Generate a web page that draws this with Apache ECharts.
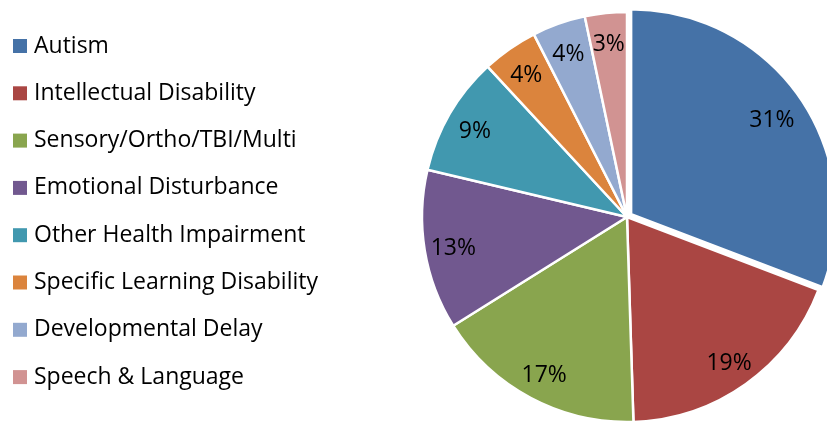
<!DOCTYPE html>
<html>
<head>
<meta charset="utf-8">
<script src="https://cdn.jsdelivr.net/npm/echarts@6/dist/echarts.min.js"></script>
<style>
html,body{margin:0;padding:0;background:#fff;}
#chart{width:827px;height:423px;}
</style>
</head>
<body>
<div id="chart"></div>
<script>
const categories = ["Autism","Intellectual Disability","Sensory/Ortho/TBI/Multi","Emotional Disturbance","Other Health Impairment","Specific Learning Disability","Developmental Delay","Speech & Language"];
const values = [30.8, 18.7, 16.6, 12.6, 9.4, 4.4, 4.2, 3.3];
const colors = ["#4572A7","#AA4643","#89A54E","#71588F","#4198AF","#DB843D","#93A9CF","#D19392"];

const FONT = "Open Sans";
const chart = echarts.init(document.getElementById('chart'), null, {renderer:'canvas'});
const center = [627, 217];
const mainData = categories.map((n,i)=>({name:n, value:values[i], selected: i===0, itemStyle:{color:colors[i]}}));
const labelData = categories.map((n,i)=>({name:n, value:values[i]}));

chart.setOption({
  animation:false,
  legend:{
    orient:'vertical', left:13, top:33, padding:0,
    itemWidth:14, itemHeight:14, itemGap:21.3, icon:'rect',
    selectedMode:false,
    itemStyle:{borderWidth:0},
    data:categories,
    textStyle:{fontFamily:FONT, fontSize:23, lineHeight:26, color:'#000', padding:[0,0,0,2]}
  },
  series:[
    {
      type:'pie', center:center, radius:[0,205], startAngle:90, clockwise:true,
      selectedMode:'multiple', selectedOffset:5, silent:true,
      itemStyle:{borderColor:'#fff', borderWidth:2.5},
      label:{show:false}, labelLine:{show:false},
      emphasis:{disabled:true},
      data:mainData
    },
    {
      type:'pie', center:center, radius:[141,205], startAngle:90, clockwise:true,
      silent:true, legendHoverLink:false, percentPrecision:0,
      itemStyle:{color:'rgba(0,0,0,0)', borderWidth:0},
      label:{show:true, position:'inside', formatter:'{d}%', fontFamily:FONT, fontSize:23, color:'#000', offset:[0,3]},
      labelLine:{show:false},
      emphasis:{disabled:true},
      data:labelData
    }
  ]
});
</script>
</body>
</html>
